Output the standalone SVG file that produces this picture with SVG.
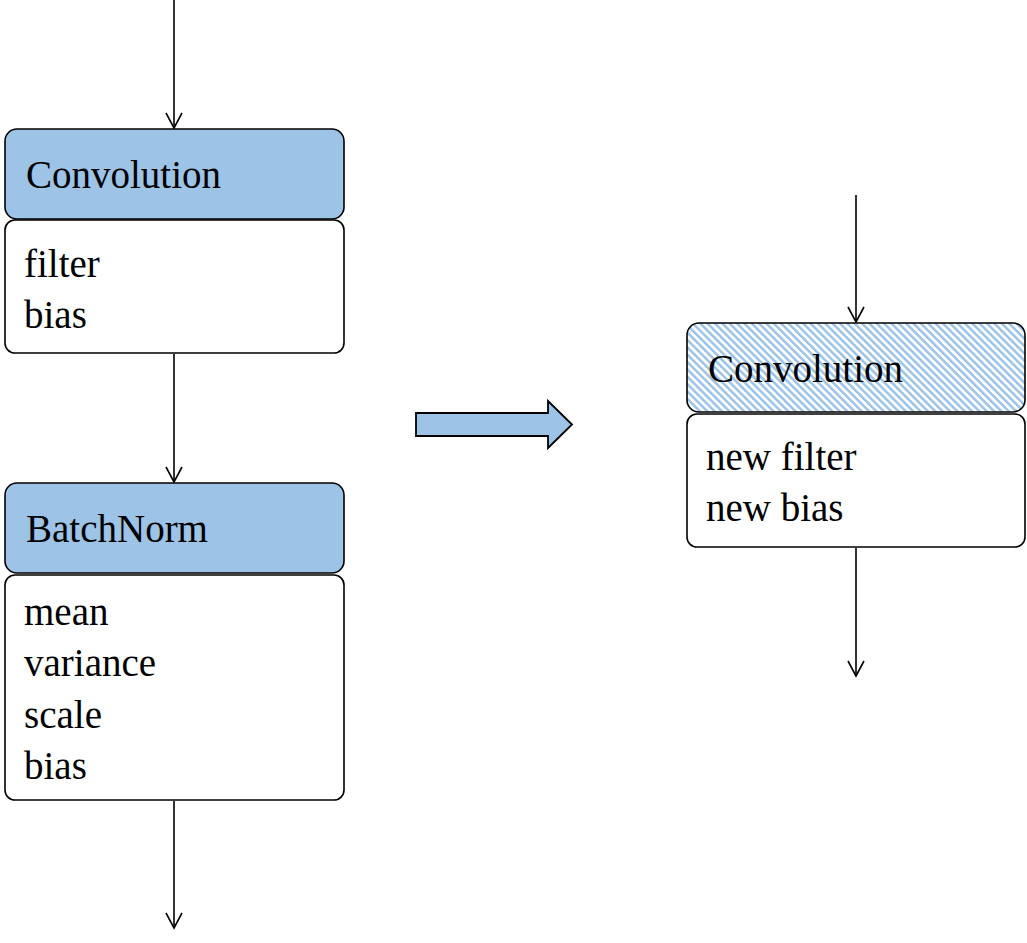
<svg xmlns="http://www.w3.org/2000/svg" width="1027" height="943" viewBox="0 0 1027 943">
<style>
.hdr{fill:#9DC3E6;stroke:#000;stroke-width:1.6}
.hat{fill:url(#hatch);stroke:#000;stroke-width:1.6}
.body{fill:#fff;stroke:#000;stroke-width:1.6}
.t{font-family:"Liberation Serif",serif;font-size:39px;fill:#000}
.c line{stroke:#000;stroke-width:1.6}
.c path.h{fill:none;stroke:#000;stroke-width:1.6}
</style>
<defs>
<pattern id="hatch" patternUnits="userSpaceOnUse" width="5.2" height="5.2" patternTransform="rotate(-45)">
<rect width="5.2" height="5.2" fill="#fff"/>
<rect width="2.5" height="5.2" fill="#9DC3E6"/>
</pattern>
</defs>
<rect width="1027" height="943" fill="#fff"/>
<g class="c" id="connectors">
<line x1="174" y1="0" x2="174" y2="128"/>
<path class="h" d="M166,113 L174,128 L182,113"/>
<line x1="174" y1="354" x2="174" y2="482"/>
<path class="h" d="M166,467 L174,482 L182,467"/>
<line x1="174" y1="801" x2="174" y2="928"/>
<path class="h" d="M166,913 L174,928 L182,913"/>
<line x1="856" y1="195" x2="856" y2="322"/>
<path class="h" d="M848,307 L856,322 L864,307"/>
<line x1="856" y1="548" x2="856" y2="676"/>
<path class="h" d="M848,661 L856,676 L864,661"/>
</g>
<g id="conv1">
<rect class="hdr" x="5" y="129" width="339" height="90" rx="12"/>
<rect class="body" x="5" y="220" width="339" height="133" rx="10"/>
<text class="t" x="26" y="188">Convolution</text>
<text class="t" x="24" y="277">filter</text>
<text class="t" x="24" y="328">bias</text>
</g>
<g id="batchnorm">
<rect class="hdr" x="5" y="483" width="339" height="90" rx="12"/>
<rect class="body" x="5" y="575" width="339" height="225" rx="10"/>
<text class="t" x="26" y="542">BatchNorm</text>
<text class="t" x="24" y="625">mean</text>
<text class="t" x="24" y="676">variance</text>
<text class="t" x="24" y="728">scale</text>
<text class="t" x="24" y="779">bias</text>
</g>
<g id="transform-arrow">
<path d="M416,413 L548,413 L548,401 L572,424.5 L548,448 L548,436 L416,436 Z" fill="#9DC3E6" stroke="#000" stroke-width="1.8"/>
</g>
<g id="conv2">
<rect class="hat" x="687" y="323" width="338" height="89" rx="12"/>
<rect class="body" x="687" y="414" width="338" height="133" rx="10"/>
<text class="t" x="708" y="382">Convolution</text>
<text class="t" x="706" y="470">new filter</text>
<text class="t" x="706" y="521">new bias</text>
</g>
</svg>
